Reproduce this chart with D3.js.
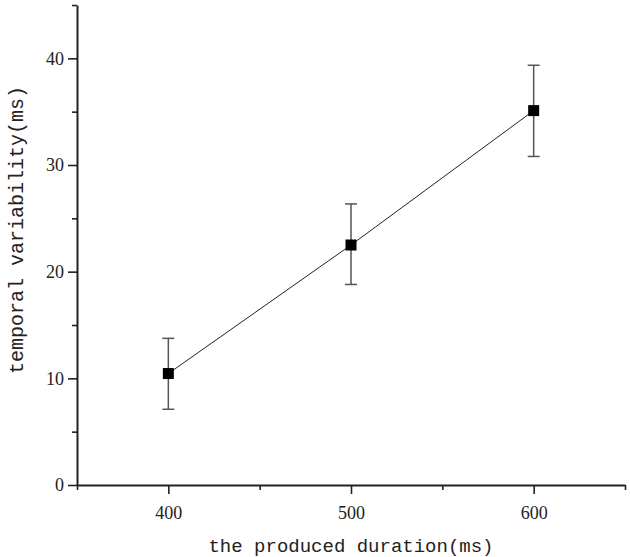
<!DOCTYPE html>
<html>
<head>
<meta charset="utf-8">
<script src="https://cdn.jsdelivr.net/npm/d3@7"></script>
<style>
  body { margin: 0; background: #fff; }
  svg { display: block; }
</style>
</head>
<body>
<svg id="chart" width="630" height="557"></svg>
<script>
// durations and measured variability
const durations = [400, 500, 600];
const means = [10.45, 22.5, 35.1];
const lower = [7.1, 18.8, 30.8];
const upper = [13.75, 26.35, 39.35];
const xTicks = [400, 500, 600];
const yTicks = [0, 10, 20, 30, 40];

const svg = d3.select("#chart");
const margin = { top: 5, right: 5, bottom: 72, left: 77 };
const width = +svg.attr("width") - margin.left - margin.right;
const height = +svg.attr("height") - margin.top - margin.bottom;

const g = svg.append("g").attr("transform", `translate(${margin.left},${margin.top})`);

const x = d3.scaleLinear().domain([350, 650]).range([0, width]);
const y = d3.scaleLinear().domain([0, 45]).range([height, 0]);

const data = durations.map((d, i) => ({ d, m: means[i], lo: lower[i], hi: upper[i] }));

// minor ticks
g.append("g")
  .attr("transform", `translate(0,${height})`)
  .call(d3.axisBottom(x).tickValues([350, 450, 550, 650]).tickSize(5).tickFormat(""))
  .call(a => a.select(".domain").remove())
  .selectAll("line").attr("stroke", "#222").attr("stroke-width", 1.6);

g.append("g")
  .call(d3.axisLeft(y).tickValues([5, 15, 25, 35, 45]).tickSize(5).tickFormat(""))
  .call(a => a.select(".domain").remove())
  .selectAll("line").attr("stroke", "#222").attr("stroke-width", 1.6);

// major axes
const xAxis = g.append("g")
  .attr("transform", `translate(0,${height})`)
  .call(d3.axisBottom(x).tickValues(xTicks).tickSize(9).tickSizeOuter(0).tickPadding(12));
xAxis.select(".domain").attr("stroke", "#222").attr("stroke-width", 2);
xAxis.selectAll("line").attr("stroke", "#222").attr("stroke-width", 1.6);
xAxis.selectAll("text")
  .style("font-family", "'Liberation Serif', serif")
  .style("font-size", "18px")
  .style("fill", "#222");

const yAxis = g.append("g")
  .call(d3.axisLeft(y).tickValues(yTicks).tickSize(9).tickSizeOuter(0).tickPadding(4));
yAxis.select(".domain").attr("stroke", "#222").attr("stroke-width", 2);
yAxis.selectAll("line").attr("stroke", "#222").attr("stroke-width", 1.6);
yAxis.selectAll("text")
  .style("font-family", "'Liberation Serif', serif")
  .style("font-size", "18px")
  .style("fill", "#222");

// connecting line
g.append("path")
  .datum(data)
  .attr("fill", "none")
  .attr("stroke", "#222")
  .attr("stroke-width", 1)
  .attr("d", d3.line().x(d => x(d.d)).y(d => y(d.m)));

// error bars
const eb = g.selectAll(".eb").data(data).enter().append("g").attr("class", "eb");
eb.append("line")
  .attr("x1", d => x(d.d)).attr("x2", d => x(d.d))
  .attr("y1", d => y(d.lo)).attr("y2", d => y(d.hi))
  .attr("stroke", "#555").attr("stroke-width", 1.5);
eb.append("line")
  .attr("x1", d => x(d.d) - 6).attr("x2", d => x(d.d) + 6)
  .attr("y1", d => y(d.hi)).attr("y2", d => y(d.hi))
  .attr("stroke", "#555").attr("stroke-width", 1.5);
eb.append("line")
  .attr("x1", d => x(d.d) - 6).attr("x2", d => x(d.d) + 6)
  .attr("y1", d => y(d.lo)).attr("y2", d => y(d.lo))
  .attr("stroke", "#555").attr("stroke-width", 1.5);

// square markers
g.selectAll(".pt").data(data).enter().append("rect")
  .attr("class", "pt")
  .attr("x", d => x(d.d) - 5.5)
  .attr("y", d => y(d.m) - 5.5)
  .attr("width", 11).attr("height", 11)
  .attr("fill", "#000");

// axis titles
svg.append("text")
  .attr("x", margin.left + width / 2)
  .attr("y", 552)
  .attr("text-anchor", "middle")
  .style("font-family", "'Liberation Mono', monospace")
  .style("font-size", "19px")
  .style("fill", "#222")
  .text("the produced duration(ms)");

svg.append("text")
  .attr("transform", "translate(23,230) rotate(-90)")
  .attr("text-anchor", "middle")
  .style("font-family", "'Liberation Mono', monospace")
  .style("font-size", "20px")
  .style("fill", "#222")
  .text("temporal variability(ms)");
</script>
</body>
</html>
